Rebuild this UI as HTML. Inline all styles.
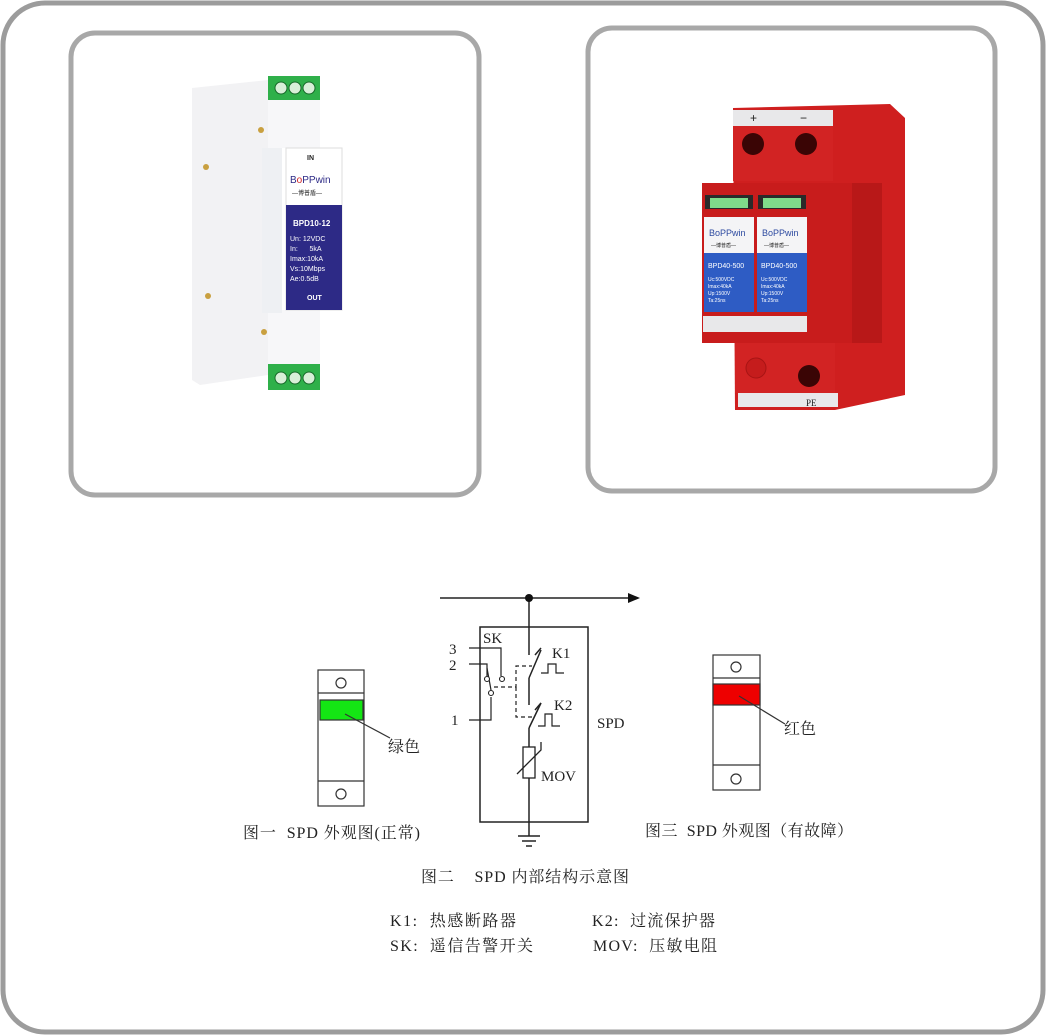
<!DOCTYPE html>
<html><head><meta charset="utf-8"><style>
html,body{margin:0;padding:0;background:#fff}
svg{display:block}
text{font-family:"Liberation Serif","Noto Serif CJK SC","Noto Sans CJK SC",serif;fill:#222;white-space:pre}
.s, .s text{font-family:"Liberation Sans","Noto Sans CJK SC",sans-serif}
</style></head><body>
<svg width="1046" height="1035" viewBox="0 0 1046 1035" xmlns="http://www.w3.org/2000/svg" xml:space="preserve">
<rect x="3" y="3" width="1040" height="1029" rx="42" fill="#fff" stroke="#9c9c9c" stroke-width="5"/>
<rect x="71" y="33" width="408" height="462" rx="24" fill="#fff" stroke="#a8a8a8" stroke-width="5"/>
<rect x="588" y="28" width="407" height="463" rx="24" fill="#fff" stroke="#a8a8a8" stroke-width="5"/>

<!-- left device -->
<g>
<polygon points="192,88 268,80 268,375 200,385 192,380" fill="#f2f2f4"/>
<rect x="268" y="98" width="52" height="50" fill="#f7f7f9"/>
<rect x="268" y="310" width="52" height="60" fill="#f7f7f9"/>
<rect x="262" y="148" width="20" height="165" fill="#eef0f3"/>
<rect x="268" y="76" width="52" height="24" fill="#2fb04a"/>
<circle cx="281" cy="88" r="6" fill="#d8efd8" stroke="#186a2a"/><circle cx="295" cy="88" r="6" fill="#d8efd8" stroke="#186a2a"/><circle cx="309" cy="88" r="6" fill="#d8efd8" stroke="#186a2a"/>
<rect x="268" y="364" width="52" height="26" fill="#2fb04a"/>
<circle cx="281" cy="378" r="6" fill="#d8efd8" stroke="#186a2a"/><circle cx="295" cy="378" r="6" fill="#d8efd8" stroke="#186a2a"/><circle cx="309" cy="378" r="6" fill="#d8efd8" stroke="#186a2a"/>
<rect x="286" y="148" width="56" height="162" fill="#fff" stroke="#ddd"/>
<rect x="286" y="205" width="56" height="105" fill="#2d2a86"/>
<text x="307" y="160" class="s" font-size="7" font-weight="bold">IN</text>
<text x="290" y="183" class="s" font-size="10" style="fill:#2d2a86">B<tspan style="fill:#d02020">o</tspan>PPwin</text>
<text x="292" y="195" class="s" font-size="6">—博普盾—</text>
<text x="293" y="226" class="s" font-size="8" font-weight="bold" style="fill:#fff">BPD10-12</text>
<g class="s" font-size="7"><text x="290" y="241" style="fill:#fff">Un: 12VDC</text><text x="290" y="251" style="fill:#fff">In:      5kA</text><text x="290" y="261" style="fill:#fff">Imax:10kA</text><text x="290" y="271" style="fill:#fff">Vs:10Mbps</text><text x="290" y="281" style="fill:#fff">Ae:0.5dB</text></g>
<text x="307" y="300" class="s" font-size="7" font-weight="bold" style="fill:#fff">OUT</text>
<circle cx="261" cy="130" r="3" fill="#c9a040"/><circle cx="206" cy="167" r="3" fill="#c9a040"/><circle cx="208" cy="296" r="3" fill="#c9a040"/><circle cx="264" cy="332" r="3" fill="#c9a040"/>
</g>

<!-- right device -->
<g>
<polygon points="733,108 890,104 905,118 905,395 835,410 735,410" fill="#cf1f1f"/>
<rect x="733" y="110" width="100" height="16" fill="#e8e8ea"/>
<text x="750" y="122" class="s" font-size="12">+</text><text x="800" y="122" class="s" font-size="12">−</text>
<rect x="733" y="126" width="100" height="55" fill="#d22323"/>
<circle cx="753" cy="144" r="11" fill="#3a0505"/><circle cx="806" cy="144" r="11" fill="#3a0505"/>
<rect x="702" y="183" width="150" height="160" fill="#c81c1c"/>
<rect x="852" y="183" width="30" height="160" fill="#b81818"/>
<rect x="705" y="195" width="48" height="14" fill="#2a2a2a"/><rect x="710" y="198" width="38" height="10" fill="#7fdc8a"/>
<rect x="758" y="195" width="48" height="14" fill="#2a2a2a"/><rect x="763" y="198" width="38" height="10" fill="#7fdc8a"/>
<rect x="704" y="217" width="50" height="36" fill="#f4f4f6"/><rect x="757" y="217" width="50" height="36" fill="#f4f4f6"/>
<text x="709" y="236" class="s" font-size="9" style="fill:#2d4aa0">BoPPwin</text><text x="762" y="236" class="s" font-size="9" style="fill:#2d4aa0">BoPPwin</text>
<text x="711" y="247" class="s" font-size="5">—博普盾—</text><text x="764" y="247" class="s" font-size="5">—博普盾—</text>
<rect x="704" y="253" width="50" height="59" fill="#2e5cc4"/><rect x="757" y="253" width="50" height="59" fill="#2e5cc4"/>
<g class="s" font-size="7"><text x="708" y="268" style="fill:#fff">BPD40-500</text><text x="761" y="268" style="fill:#fff">BPD40-500</text></g>
<g class="s" font-size="5"><text x="708" y="281" style="fill:#fff">Uc:500VDC</text><text x="708" y="288" style="fill:#fff">Imax:40kA</text><text x="708" y="295" style="fill:#fff">Up:1500V</text><text x="708" y="302" style="fill:#fff">Ta:25ns</text>
<text x="761" y="281" style="fill:#fff">Uc:500VDC</text><text x="761" y="288" style="fill:#fff">Imax:40kA</text><text x="761" y="295" style="fill:#fff">Up:1500V</text><text x="761" y="302" style="fill:#fff">Ta:25ns</text></g>
<rect x="703" y="316" width="104" height="16" fill="#e8e8ea"/>
<rect x="735" y="343" width="100" height="50" fill="#d22323"/>
<circle cx="756" cy="368" r="10" fill="#c51c1c" stroke="#a81414"/><circle cx="809" cy="376" r="11" fill="#3a0505"/>
<rect x="738" y="393" width="100" height="14" fill="#e8e8ea"/>
<text x="806" y="406" font-size="9">PE</text>
</g>

<!-- circuit diagram -->
<g stroke="#222" stroke-width="1.5" fill="none">
<line x1="440" y1="598" x2="630" y2="598"/>
<rect x="480" y="627" width="108" height="195"/>
<line x1="529" y1="598" x2="529" y2="655"/>
<line x1="529" y1="678" x2="541" y2="650"/><line x1="535" y1="655" x2="541" y2="648"/>
<line x1="529" y1="678" x2="529" y2="705"/>
<line x1="529" y1="728" x2="541" y2="703"/><line x1="535" y1="710" x2="541" y2="703"/>
<line x1="529" y1="728" x2="529" y2="747"/>
<rect x="523" y="747" width="12" height="31" stroke-width="1.3"/>
<polyline points="517,774 541,750 541,742" stroke-width="1.3"/>
<line x1="529" y1="778" x2="529" y2="836"/>
<line x1="518" y1="836" x2="540" y2="836"/><line x1="522" y1="841" x2="536" y2="841"/><line x1="526" y1="846" x2="532" y2="846"/>
<polyline points="541,673 548,673 548,664 556,664 556,673 564,673" stroke-width="1.2"/>
<polyline points="538,726 545,726 545,714 552,714 552,726 560,726" stroke-width="1.2"/>
<polyline points="469,648 501,648 501,676" stroke-width="1.2"/>
<polyline points="469,664 487,664 487,676" stroke-width="1.2"/>
<polyline points="469,720 491,720 491,697" stroke-width="1.2"/>
<line x1="487" y1="668" x2="491" y2="690" stroke-width="1.2"/>
<circle cx="487" cy="679" r="2.5" stroke-width="1.1" fill="#fff"/><circle cx="502" cy="679" r="2.5" stroke-width="1.1" fill="#fff"/><circle cx="491" cy="693" r="2.5" stroke-width="1.1" fill="#fff"/>
<polyline points="494,687 516,687 516,666 532,666" stroke-dasharray="4,3" stroke-width="1.2"/>
<polyline points="516,687 516,717 532,717" stroke-dasharray="4,3" stroke-width="1.2"/>
</g>
<circle cx="529" cy="598" r="4" fill="#111"/>
<polygon points="628,593 640,598 628,603" fill="#111"/>
<g font-size="15">
<text x="483" y="643">SK</text><text x="449" y="654">3</text><text x="449" y="670">2</text><text x="451" y="725">1</text>
<text x="552" y="658">K1</text><text x="554" y="710">K2</text><text x="597" y="728">SPD</text><text x="541" y="781">MOV</text>
</g>

<!-- left small device -->
<g stroke="#333" stroke-width="1.2" fill="none">
<rect x="318" y="670" width="46" height="136" fill="#fff"/>
<line x1="318" y1="693" x2="364" y2="693"/><line x1="318" y1="781" x2="364" y2="781"/>
<circle cx="341" cy="683" r="5"/><circle cx="341" cy="794" r="5"/>
<rect x="320" y="700" width="43" height="20" fill="#14e614" stroke="#333"/>
<line x1="345" y1="714" x2="390" y2="738"/>
</g>
<text x="388" y="752" font-size="16">绿色</text>
<text x="243" y="838" font-size="16" textLength="177" lengthAdjust="spacing">图一  SPD 外观图(正常)</text>

<!-- right small device -->
<g stroke="#333" stroke-width="1.2" fill="none">
<rect x="713" y="655" width="47" height="135" fill="#fff"/>
<line x1="713" y1="678" x2="760" y2="678"/><line x1="713" y1="765" x2="760" y2="765"/>
<circle cx="736" cy="667" r="5"/><circle cx="736" cy="779" r="5"/>
<rect x="713" y="684" width="47" height="21" fill="#ee0000" stroke="#333"/>
<line x1="739" y1="696" x2="785" y2="724"/>
</g>
<text x="784" y="734" font-size="16">红色</text>
<text x="645" y="836" font-size="16" textLength="208" lengthAdjust="spacing">图三  SPD 外观图（有故障）</text>

<text x="421" y="882" font-size="16" textLength="208" lengthAdjust="spacing">图二    SPD 内部结构示意图</text>
<g font-size="16">
<text x="390" y="926" textLength="126" lengthAdjust="spacing">K1:  热感断路器</text><text x="592" y="926" textLength="123" lengthAdjust="spacing">K2:  过流保护器</text>
<text x="390" y="951" textLength="143" lengthAdjust="spacing">SK:  遥信告警开关</text><text x="593" y="951" textLength="124" lengthAdjust="spacing">MOV:  压敏电阻</text>
</g>
</svg>
</body></html>
